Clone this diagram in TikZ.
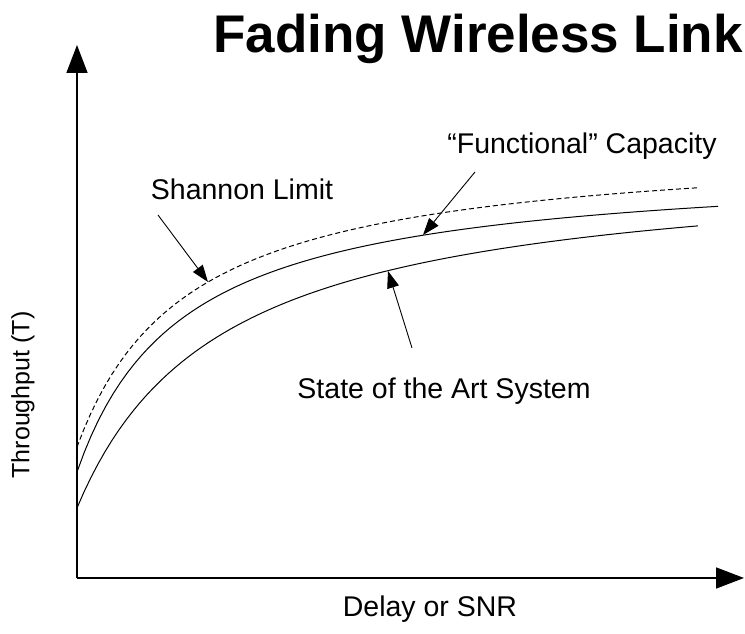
\documentclass[tikz,border=0pt]{standalone}
\usepackage{fontspec}
\setmainfont{Liberation Sans}
\usetikzlibrary{arrows.meta}
\begin{document}
\begin{tikzpicture}[x=1pt,y=1pt,
    axis/.style={line width=1.6pt,-{Triangle[length=28pt,width=21pt]}},
    curve/.style={line width=1pt},
    pointer/.style={line width=0.9pt,-{Triangle[length=17pt,width=12pt]}},
    lbl/.style={font=\fontsize{28.5}{34}\selectfont, inner sep=0pt}]
  \useasboundingbox (0,0) rectangle (745,634);
  % axes
  \coordinate (origin) at (77,56);
  \coordinate (ytip) at (77,589);
  \coordinate (xtip) at (744,56);
  \draw[axis] (origin) -- (ytip);
  \draw[axis] (origin) -- (xtip);
  % curves
  \draw[curve,dashed,dash pattern=on 5pt off 3pt] plot[domain=0:621,samples=90] ({77+\x},{187+\x/(\x+112)*306});
  \draw[curve] plot[domain=0:641,samples=90] ({77+\x},{162+\x/(\x+107)*310});
  \draw[curve] plot[domain=0:621,samples=90] ({77+\x},{126+\x/(\x+145)*348});
  % points on curves
  \coordinate (shannonpt) at (208,352);
  \coordinate (funcpt) at (423,399);
  \coordinate (statept) at (388,363);
  % labels
  \node[anchor=base west, inner sep=0pt, font=\fontsize{53}{60}\selectfont\bfseries] (title) at (213,581) {Fading Wireless Link};
  \node[lbl] (shannon) at (242,445) {Shannon Limit};
  \node[lbl] (func) at (582,488) {``Functional'' Capacity};
  \node[lbl] (state) at (444,243) {State of the Art System};
  \node[lbl] (xlabel) at (430,25) {Delay or SNR};
  \node[lbl, font=\fontsize{25}{30}\selectfont, rotate=90] (ylabel) at (23,239) {Throughput (T)};
  % pointers
  \coordinate (shannonfrom) at (158,419);
  \coordinate (funcfrom) at (475,462);
  \coordinate (statefrom) at (412,286);
  \draw[pointer] (shannonfrom) -- (shannonpt);
  \draw[pointer] (funcfrom) -- (funcpt);
  \draw[pointer] (statefrom) -- (statept);
\end{tikzpicture}
\end{document}
